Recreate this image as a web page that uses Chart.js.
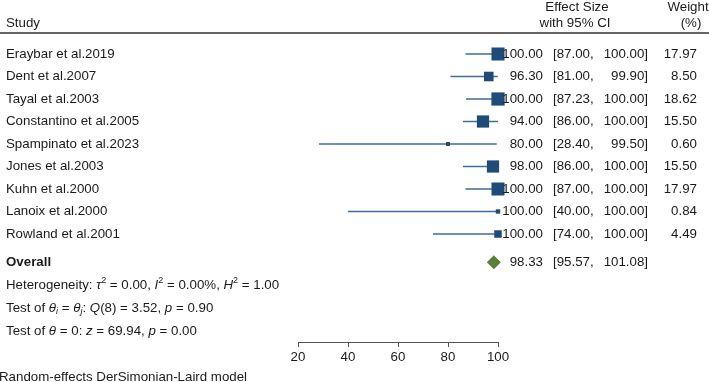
<!DOCTYPE html>
<html>
<head>
<meta charset="utf-8">
<script src="https://cdn.jsdelivr.net/npm/chart.js@4"></script>
<style>
  html, body { margin: 0; padding: 0; background: #fff; }
  #wrap { width: 709px; height: 382px; }
</style>
</head>
<body>
<div id="wrap"><canvas id="myChart" width="709" height="382"></canvas></div>
<script>
// Datos del forest plot
const studies = ['Eraybar et al.2019', 'Dent et al.2007', 'Tayal et al.2003', 'Constantino et al.2005',
  'Spampinato et al.2023', 'Jones et al.2003', 'Kuhn et al.2000', 'Lanoix et al.2000', 'Rowland et al.2001'];
const effects = [100.00, 96.30, 100.00, 94.00, 80.00, 98.00, 100.00, 100.00, 100.00];
const ciLow   = [87.00, 81.00, 87.23, 86.00, 28.40, 86.00, 87.00, 40.00, 74.00];
const ciHigh  = [100.00, 99.90, 100.00, 100.00, 99.50, 100.00, 100.00, 100.00, 100.00];
const weights = [17.97, 8.50, 18.62, 15.50, 0.60, 15.50, 17.97, 0.84, 4.49];

const overallEffect = 98.33;
const overallLow = 95.57;
const overallHigh = 101.08;

const tau2 = '0.00', iSq = '0.00%', hSq = '1.00';
const qDf = 8, qStat = '3.52', qP = '0.90';
const zStat = '69.94', zP = '0.00';

const xTicks = [20, 40, 60, 80, 100];

// filas (en unidades del eje y)
const rowOverall = 9.25;
const rowHet = 10.27;
const rowTestA = 11.29;
const rowTestB = 12.31;

const FONT = '"Liberation Sans", Arial, Helvetica, sans-serif';
const FS = 13.3;
const TXT = '#1a1a1a';
const fmt = v => v.toFixed(2);

// texto con partes en cursiva / superindice / subindice
function drawRich(ctx, x, y, segs) {
  ctx.textAlign = 'left';
  ctx.textBaseline = 'middle';
  segs.forEach(s => {
    let size = FS, dy = 0;
    if (s.sup) { size = 9; dy = -5; }
    if (s.sub) { size = 9; dy = 3; }
    ctx.font = (s.i ? 'italic ' : '') + size + 'px ' + FONT;
    ctx.fillText(s.t, x, y + dy);
    x += ctx.measureText(s.t).width;
  });
}

const textPlugin = {
  id: 'forestText',
  afterDraw(chart) {
    const ctx = chart.ctx;
    const ys = chart.scales.y;
    ctx.save();
    ctx.fillStyle = TXT;
    ctx.font = FS + 'px ' + FONT;
    ctx.textBaseline = 'middle';

    // encabezado
    ctx.textAlign = 'left';
    ctx.fillText('Study', 6, 23);
    ctx.textAlign = 'center';
    ctx.fillText('Effect Size', 577, 7);
    ctx.fillText('with 95% CI', 575, 23);
    ctx.fillText('Weight', 688, 7);
    ctx.fillText('(%)', 691, 23);
    ctx.strokeStyle = '#333';
    ctx.lineWidth = 1.5;
    ctx.beginPath();
    ctx.moveTo(0, 33);
    ctx.lineTo(709, 33);
    ctx.stroke();

    // filas de estudios
    studies.forEach((name, i) => {
      const y = ys.getPixelForValue(i);
      ctx.textAlign = 'left';
      ctx.fillText(name, 6, y);
      ctx.textAlign = 'right';
      ctx.fillText(fmt(effects[i]), 543, y);
      ctx.textAlign = 'left';
      ctx.fillText('[' + fmt(ciLow[i]) + ',', 553, y);
      ctx.textAlign = 'right';
      ctx.fillText(fmt(ciHigh[i]) + ']', 648, y);
      ctx.fillText(fmt(weights[i]), 697, y);
    });

    // overall
    let y = ys.getPixelForValue(rowOverall);
    ctx.textAlign = 'left';
    ctx.font = 'bold ' + FS + 'px ' + FONT;
    ctx.fillText('Overall', 6, y);
    ctx.font = FS + 'px ' + FONT;
    ctx.textAlign = 'right';
    ctx.fillText(fmt(overallEffect), 543, y);
    ctx.textAlign = 'left';
    ctx.fillText('[' + fmt(overallLow) + ',', 553, y);
    ctx.textAlign = 'right';
    ctx.fillText(fmt(overallHigh) + ']', 648, y);

    drawRich(ctx, 6, ys.getPixelForValue(rowHet), [
      { t: 'Heterogeneity: ' }, { t: 'τ', i: true }, { t: '2', sup: true },
      { t: ' = ' + tau2 + ', ' }, { t: 'I', i: true }, { t: '2', sup: true },
      { t: ' = ' + iSq + ', ' }, { t: 'H', i: true }, { t: '2', sup: true },
      { t: ' = ' + hSq }
    ]);
    drawRich(ctx, 6, ys.getPixelForValue(rowTestA), [
      { t: 'Test of ' }, { t: 'θ', i: true }, { t: 'i', i: true, sub: true },
      { t: ' = ' }, { t: 'θ', i: true }, { t: 'j', i: true, sub: true },
      { t: ': ' }, { t: 'Q', i: true }, { t: '(' + qDf + ') = ' + qStat + ', ' },
      { t: 'p', i: true }, { t: ' = ' + qP }
    ]);
    drawRich(ctx, 6, ys.getPixelForValue(rowTestB), [
      { t: 'Test of ' }, { t: 'θ', i: true }, { t: ' = 0: ' },
      { t: 'z', i: true }, { t: ' = ' + zStat + ', ' },
      { t: 'p', i: true }, { t: ' = ' + zP }
    ]);

    ctx.font = FS + 'px ' + FONT;
    ctx.textAlign = 'left';
    ctx.fillText('Random-effects DerSimonian-Laird model', -1, 377);
    ctx.restore();
  }
};

// lineas de IC, una por estudio
const ciSets = studies.map((s, i) => ({
  type: 'line',
  data: [{ x: ciLow[i], y: i }, { x: ciHigh[i], y: i }],
  borderColor: '#3f6d96',
  borderWidth: 1.5,
  pointRadius: 0,
  clip: false,
  order: 2
}));

const ctx = document.getElementById('myChart').getContext('2d');
new Chart(ctx, {
  type: 'scatter',
  data: {
    datasets: [
      {
        label: 'Estudios',
        data: effects.map((v, i) => ({ x: v, y: i })),
        pointStyle: 'rect',
        backgroundColor: '#1f4b78',
        borderWidth: 0,
        pointRadius: c => (2 + 2.6 * Math.sqrt(weights[c.dataIndex])) / Math.SQRT2,
        clip: false,
        order: 0
      },
      {
        label: 'Overall',
        data: [{ x: overallEffect, y: rowOverall }],
        pointStyle: 'rectRot',
        backgroundColor: '#5a7f38',
        borderWidth: 0,
        pointRadius: 7,
        clip: false,
        order: 0
      },
      ...ciSets
    ]
  },
  options: {
    responsive: false,
    animation: false,
    layout: { autoPadding: false, padding: { left: 298, right: 211, top: 0, bottom: 0 } },
    plugins: { legend: { display: false }, tooltip: { enabled: false } },
    scales: {
      x: {
        type: 'linear',
        min: 20,
        max: 100,
        afterBuildTicks: s => { s.ticks = xTicks.map(v => ({ value: v })); },
        afterFit: s => { s.height = 40; },
        grid: { display: true, drawOnChartArea: false, drawTicks: true, tickLength: 5, color: '#555' },
        border: { display: true, color: '#555', width: 1 },
        ticks: { color: TXT, font: { family: FONT, size: FS }, padding: 2, maxRotation: 0 }
      },
      y: {
        type: 'linear',
        display: false,
        reverse: true,
        min: -2.4,
        max: 12.8
      }
    }
  },
  plugins: [textPlugin]
});
</script>
</body>
</html>
